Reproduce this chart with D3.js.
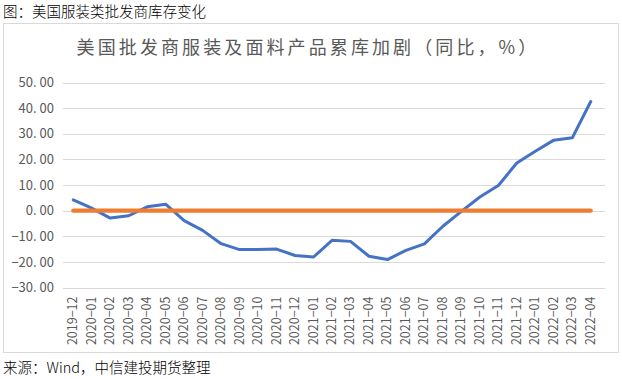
<!DOCTYPE html>
<html>
<head>
<meta charset="utf-8">
<script src="https://d3js.org/d3.v7.min.js"></script>
<style>
  body { margin: 0; background: #fff; }
  text { font-family: "Noto Sans CJK SC", "Noto Sans", sans-serif; }
</style>
</head>
<body>
<div id="chart"></div>
<script>
const months = ["2019-12", "2020-01", "2020-02", "2020-03", "2020-04", "2020-05", "2020-06", "2020-07",
  "2020-08", "2020-09", "2020-10", "2020-11", "2020-12", "2021-01", "2021-02", "2021-03", "2021-04",
  "2021-05", "2021-06", "2021-07", "2021-08", "2021-09", "2021-10", "2021-11", "2021-12", "2022-01",
  "2022-02", "2022-03", "2022-04"]
const yoy = [4.2, 1.0, -2.9, -2.0, 1.5, 2.5, -3.9, -7.7, -12.9, -15.2, -15.2, -15.0, -17.5, -18.1,
  -11.6, -12.0, -17.8, -19.1, -15.5, -13.0, -6.1, -0.3, 5.3, 9.8, 18.6, 23.2, 27.5, 28.4, 42.6]
const zeroLine = months.map(() => 0)
const yTicks = [-30, -20, -10, 0, 10, 20, 30, 40, 50]

const width = 622
const height = 379
const plot = { left: 64, right: 600, top: 82.5, bottom: 287.5 }

const svg = d3.select("#chart").append("svg")
  .attr("width", width).attr("height", height)

// outer captions
svg.append("text").attr("x", 3).attr("y", 17)
  .attr("font-size", 14.5).attr("font-weight", 300).attr("fill", "#000")
  .text("图：美国服装类批发商库存变化")
svg.append("text").attr("x", 3).attr("y", 373)
  .attr("font-size", 14.5).attr("font-weight", 300).attr("fill", "#000")
  .text("来源：Wind，中信建投期货整理")

svg.append("rect")
  .attr("x", 3.5).attr("y", 23.5).attr("width", 615).attr("height", 329)
  .attr("fill", "#fff").attr("stroke", "#d9d9d9")

svg.append("text")
  .attr("x", 308).attr("y", 54)
  .attr("text-anchor", "middle")
  .attr("font-size", 18).attr("letter-spacing", 3.1)
  .attr("fill", "#595959")
  .text("美国批发商服装及面料产品累库加剧（同比，%）")

const x = d3.scaleBand().domain(months).range([plot.left, plot.right])
const y = d3.scaleLinear().domain([-30, 50]).range([plot.bottom, plot.top])

// grid
svg.append("g").selectAll("line").data(yTicks).enter().append("line")
  .attr("x1", plot.left - 1).attr("x2", plot.right + 5)
  .attr("y1", d => Math.round(y(d)) + 0.5).attr("y2", d => Math.round(y(d)) + 0.5)
  .attr("stroke", "#d9d9d9").attr("stroke-width", 1)

const yAxis = svg.append("g")
  .attr("transform", "translate(54,0)")
  .call(d3.axisLeft(y).tickValues(yTicks).tickSize(0).tickPadding(0)
    .tickFormat(d => d3.format(".2f")(d).replace(".", ". ").replace("-", "−")))
yAxis.select(".domain").remove()
yAxis.selectAll("text")
  .attr("font-family", "'Liberation Serif', 'DejaVu Serif', serif")
  .attr("font-size", 13).attr("fill", "#595959")

const xAxis = svg.append("g")
  .attr("transform", "translate(0," + (plot.bottom + 9) + ")")
  .call(d3.axisBottom(x).tickSize(0).tickPadding(0).tickFormat(d => d.replace("-", "−")))
xAxis.select(".domain").remove()
xAxis.selectAll("text")
  .attr("font-family", "'Liberation Serif', 'DejaVu Serif', serif")
  .attr("font-size", 12.5).attr("fill", "#595959")
  .attr("transform", "rotate(-90)")
  .attr("text-anchor", "end")
  .attr("dx", 0).attr("dy", "0.32em").attr("y", 0)

const line = d3.line()
  .x((d, i) => x(months[i]) + x.bandwidth() / 2)
  .y(d => y(d))

svg.append("path").datum(yoy)
  .attr("d", line)
  .attr("fill", "none").attr("stroke", "#4472c4")
  .attr("stroke-width", 3).attr("stroke-linejoin", "round").attr("stroke-linecap", "round")

svg.append("path").datum(zeroLine)
  .attr("d", line)
  .attr("fill", "none").attr("stroke", "#ed7d31")
  .attr("stroke-width", 4.2).attr("stroke-linecap", "round")
</script>
</body>
</html>
